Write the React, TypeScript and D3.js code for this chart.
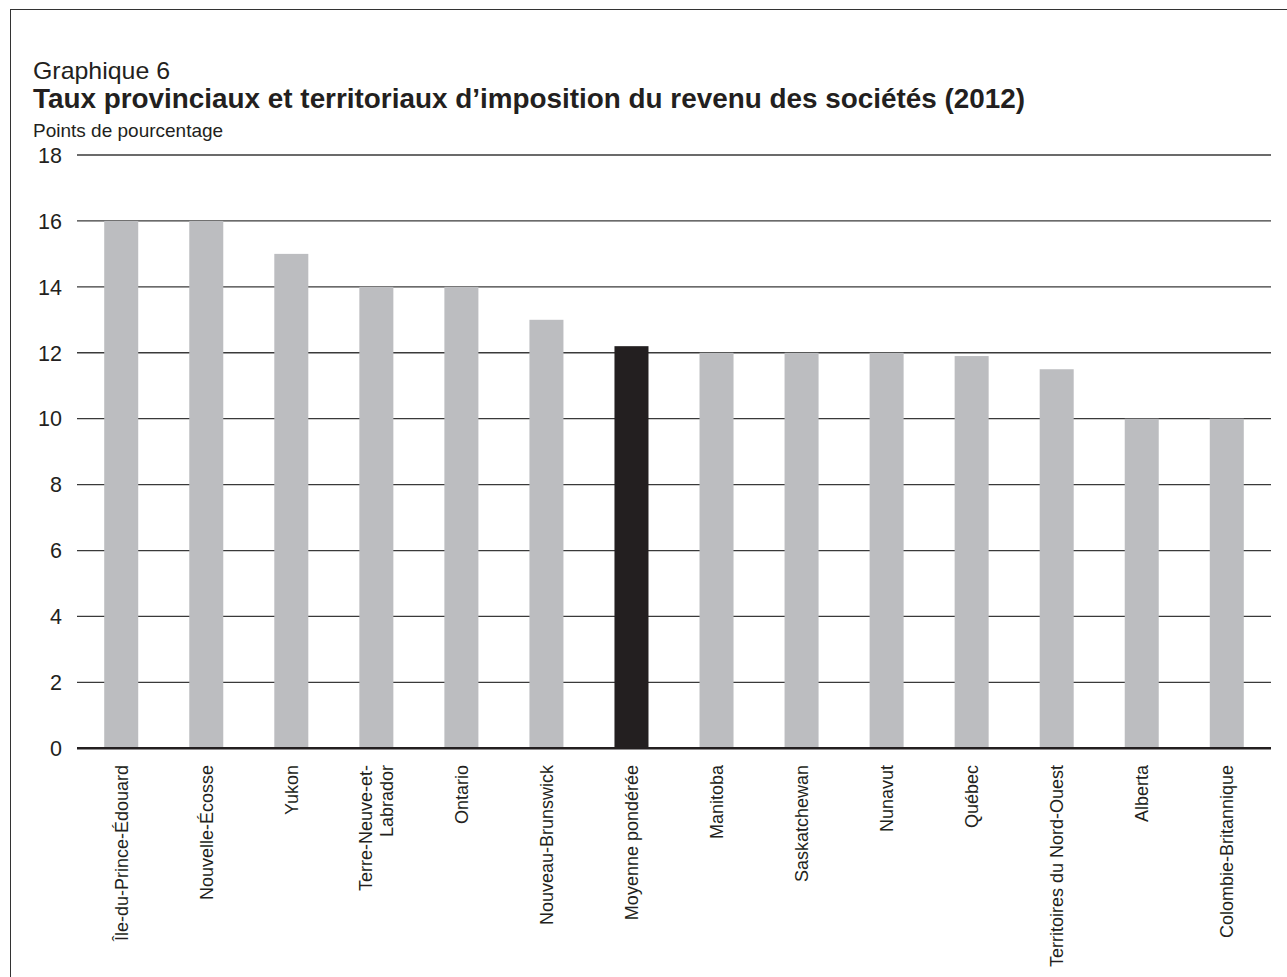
import React from "react";
import * as d3 from "d3";

const categories: string[] = [
  "Île-du-Prince-Édouard",
  "Nouvelle-Écosse",
  "Yukon",
  "Terre-Neuve-et-|Labrador",
  "Ontario",
  "Nouveau-Brunswick",
  "Moyenne pondérée",
  "Manitoba",
  "Saskatchewan",
  "Nunavut",
  "Québec",
  "Territoires du Nord-Ouest",
  "Alberta",
  "Colombie-Britannique",
];
const values: number[] = [16, 16, 15, 14, 14, 13, 12.2, 12, 12, 12, 11.9, 11.5, 10, 10];
const highlight: string[] = ["Moyenne pondérée"];
const yTicks: number[] = [0, 2, 4, 6, 8, 10, 12, 14, 16, 18];

const W = 1287;
const H = 977;
const FONT = "'Liberation Sans', Arial, Helvetica, sans-serif";

export default function App() {
  const x = d3
    .scaleBand<string>()
    .domain(categories)
    .range([77, 1271])
    .paddingInner(0.6)
    .paddingOuter(0.32);
  const y = d3.scaleLinear().domain([0, 18]).range([748.3, 155]);

  return (
    <svg
      width={W}
      height={H}
      style={{ position: "absolute", left: 0, top: 0, background: "#fff" }}
      fontFamily={FONT}
    >
      <rect x={10.5} y={9.5} width={W + 20} height={H + 20} fill="none" stroke="#333" strokeWidth={1} />
      <text x={33} y={79} fontSize={24} textLength={137} lengthAdjust="spacingAndGlyphs" fill="#231f20">
        Graphique 6
      </text>
      <text
        x={33}
        y={108}
        fontSize={27}
        fontWeight="bold"
        textLength={992}
        lengthAdjust="spacingAndGlyphs"
        fill="#231f20"
      >
        Taux provinciaux et territoriaux d’imposition du revenu des sociétés (2012)
      </text>
      <text x={33} y={137} fontSize={19} fill="#231f20">Points de pourcentage</text>

      {yTicks.map((t) => (
        <g key={t}>
          {t !== 0 && (
            <line x1={77} x2={1271} y1={y(t)} y2={y(t)} stroke="#3a3a3a" strokeWidth={1.3} />
          )}
          <text x={62} y={y(t)} dy="0.36em" textAnchor="end" fontSize={21.5} fill="#231f20">
            {t}
          </text>
        </g>
      ))}

      {categories.map((c, i) => (
        <rect
          key={c}
          x={x(c)}
          y={y(values[i])}
          width={x.bandwidth()}
          height={y(0) - y(values[i])}
          fill={highlight.includes(c) ? "#231f20" : "#bcbdc0"}
        />
      ))}

      <line x1={77} x2={1271} y1={y(0)} y2={y(0)} stroke="#231f20" strokeWidth={2.6} />

      {categories.map((c) => {
        const lines = c.split("|");
        const cx = (x(c) as number) + x.bandwidth() / 2;
        const lh = 21;
        return (
          <text
            key={c}
            transform={`translate(${cx},765) rotate(-90)`}
            textAnchor="end"
            fontSize={18}
            fill="#231f20"
          >
            {lines.map((l, k) => (
              <tspan key={k} x={0} y={(k - (lines.length - 1) / 2) * lh} dy="0.36em">
                {l}
              </tspan>
            ))}
          </text>
        );
      })}
    </svg>
  );
}
